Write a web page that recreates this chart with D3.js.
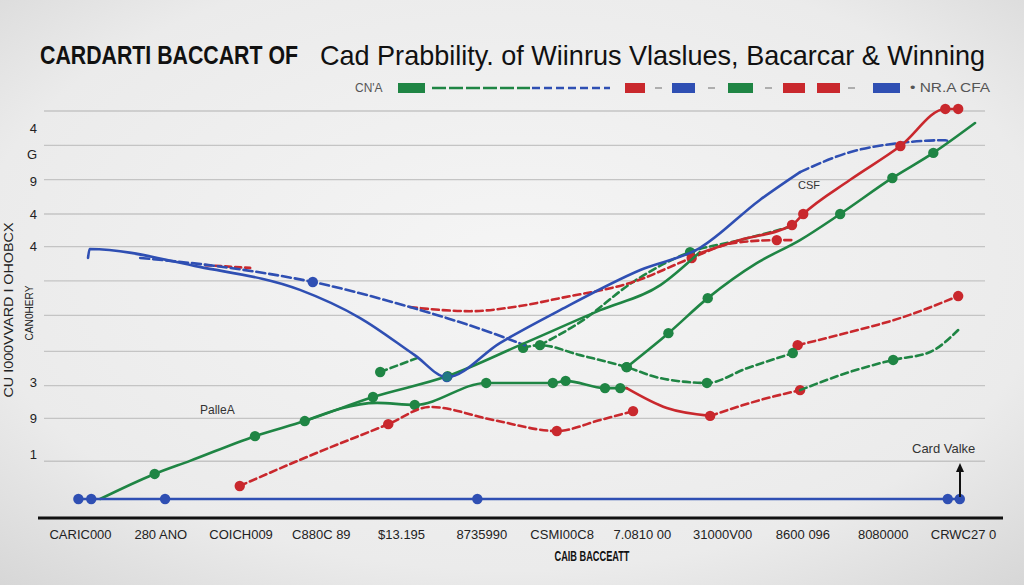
<!DOCTYPE html>
<html><head><meta charset="utf-8">
<script src="https://cdn.jsdelivr.net/npm/d3@7"></script>
<style>html,body{margin:0;padding:0;background:#ececec;}svg{display:block;}</style>
</head><body><svg id="chart" width="1024" height="585"></svg>
<script>
// ---------- DATA ----------
const xTickLabels = ["CARIC000","280 ANO","COICH009","C880C 89","$13.195","8735990","CSMI00C8","7.0810 00","31000V00","8600 096","8080000","CRWC27 0"];
const yTickValues = [10.8, 10.05, 9.25, 8.3, 7.35, 3.4, 2.35, 1.3];
const yTickLabels = ["4","G","9","4","4","3","9","1"];
const gridValues = [1.1, 2.35, 3.3, 4.3, 5.35, 6.35, 7.35, 8.3, 9.3, 10.3, 11.3];
const legendLabels = ["CN'A", "\u2022 NR.A CFA"];
const titleLeft = "CARDARTI BACCART OF";
const titleRight = "Cad Prabbility. of Wiinrus Vlaslues, Bacarcar & Winning";
const xTitle = "CAIB BACCEATT";
const yTitleOuter = "CU I000VVARD I OHOBCX";
const yTitleInner = "CAN0HERY";

// [x index, value, marker]
const blueSolid = [[0.10,7.02,0],[0.12,7.28,0],[1.49,6.76,0],[2.74,6.09,0],[3.49,5.27,0],[4.17,4.19,0],[4.57,3.55,1],[5.23,4.54,0],[5.98,5.50,0],[6.98,6.67,0],[7.72,7.31,0],[8.47,8.71,0],[8.97,9.52,0]];
const blueDash = [[8.97,9.52,0],[9.59,10.10,0],[10.22,10.37,0],[10.78,10.45,0],[10.81,10.43,0]];
const blueDash2 = [[0.75,7.02,0],[1.87,6.73,0],[2.90,6.32,1],[4.11,5.59,0],[5.27,4.72,0],[5.54,4.48,0]];
const blueBase = [[-0.02,0,1],[0.14,0,1],[1.06,0,1],[4.95,0,1],[10.81,0,1],[10.96,0,1]];
const redDashTop = [[1.56,6.81,0],[2.12,6.73,0]];
const redDashMid = [[4.11,5.59,0],[4.86,5.47,0],[5.48,5.62,0],[5.98,5.85,0],[6.89,6.32,0],[7.62,7.02,1],[8.13,7.45,0],[8.68,7.54,1],[8.88,7.54,0]];
const redSolidUp = [[7.72,7.16,0],[8.22,7.54,0],[8.87,7.98,1],[9.01,8.30,1],[9.59,9.29,0],[10.22,10.28,1],[10.78,11.36,1],[10.94,11.36,1]];
const greenSolidMain = [[0.25,0,0],[0.93,0.73,1],[1.37,1.11,0],[2.18,1.83,1],[2.80,2.27,1],[3.65,2.97,1],[4.58,3.58,1],[5.48,4.48,0],[6.48,5.50,0],[7.23,6.23,0],[7.72,7.19,0]];
const greenSolidFlat = [[2.80,2.27,0],[3.70,2.80,0],[4.17,2.74,1],[5.06,3.38,1],[5.89,3.38,1],[6.05,3.44,1],[6.54,3.23,1],[6.73,3.23,1],[6.81,3.23,0]];
const greenDashShort = [[3.74,3.70,1],[4.24,4.14,0]];
const greenDashMid = [[5.52,4.40,1],[5.73,4.48,1],[6.23,4.19,0],[6.81,3.84,1],[7.23,3.52,0],[7.81,3.38,1],[8.31,3.81,0],[8.88,4.25,1]];
const greenDashUpper = [[5.73,4.48,0],[6.23,5.15,0],[6.89,6.32,0],[7.60,7.19,1],[8.22,7.54,0],[8.84,7.92,0]];
const greenSolidRight = [[6.81,3.84,1],[7.33,4.83,1],[7.82,5.85,1],[8.43,6.87,0],[8.97,7.54,0],[9.47,8.30,1],[10.12,9.35,1],[10.63,10.08,1],[11.15,10.95,0]];
const redDashLow = [[1.99,0.38,1],[2.74,1.14,0],[3.84,2.18,1],[4.36,2.68,0],[5.15,2.30,0],[5.94,1.98,1],[6.48,2.30,0],[6.89,2.56,1]];
const redSolidLow = [[6.81,3.23,0],[7.31,2.65,0],[7.85,2.42,1]];
const redDashLow2 = [[7.85,2.42,0],[8.47,2.88,0],[8.97,3.17,1]];
const greenDashRight = [[8.97,3.17,0],[9.59,3.70,0],[10.13,4.05,1],[10.59,4.28,0],[10.94,4.92,0]];
const redDashRight = [[8.94,4.48,1],[9.59,4.86,0],[10.22,5.27,0],[10.94,5.91,1]];

// ---------- STYLE ----------
const BLUE = "#2f4fb3", GREEN = "#1f8544", RED = "#c9282d";
const series = [
  {d: greenSolidFlat, c: GREEN, dash: null},
  {d: redDashLow, c: RED, dash: "7,4"},
  {d: redSolidLow, c: RED, dash: null},
  {d: redDashLow2, c: RED, dash: "7,4"},
  {d: greenDashRight, c: GREEN, dash: "7,4"},
  {d: redDashRight, c: RED, dash: "7,4"},
  {d: greenDashShort, c: GREEN, dash: "7,4"},
  {d: greenDashMid, c: GREEN, dash: "7,4"},
  {d: greenDashUpper, c: GREEN, dash: "7,4"},
  {d: redDashTop, c: RED, dash: "6,4"},
  {d: redDashMid, c: RED, dash: "7,4"},
  {d: blueDash2, c: BLUE, dash: "9,4"},
  {d: greenSolidMain, c: GREEN, dash: null},
  {d: blueSolid, c: BLUE, dash: null},
  {d: blueDash, c: BLUE, dash: "9,4"},
  {d: redSolidUp, c: RED, dash: null},
  {d: greenSolidRight, c: GREEN, dash: null},
  {d: blueBase, c: BLUE, dash: null}
];

const svg = d3.select("#chart");
const defs = svg.append("defs");
const rg = defs.append("radialGradient").attr("id","bg").attr("cx","50%").attr("cy","45%").attr("r","75%");
rg.append("stop").attr("offset","0%").attr("stop-color","#f5f5f5");
rg.append("stop").attr("offset","70%").attr("stop-color","#ebebeb");
rg.append("stop").attr("offset","100%").attr("stop-color","#d6d6d6");
svg.append("rect").attr("width",1024).attr("height",585).attr("fill","url(#bg)");

const x = d3.scaleLinear().domain([0, 11]).range([80, 963]);
const y = d3.scaleLinear().domain([0, 11.3]).range([499, 111]);

// gridlines
svg.append("g").selectAll("line").data(gridValues).join("line")
  .attr("x1", 44).attr("x2", 985)
  .attr("y1", d => y(d)).attr("y2", d => y(d))
  .attr("stroke", "#c4c4c4").attr("stroke-width", 1.3);

// title
svg.append("text").attr("x", 40).attr("y", 64).text(titleLeft)
  .attr("font-family", "'Liberation Sans Narrow','Liberation Sans',sans-serif")
  .attr("font-weight", "bold").attr("font-size", 25).attr("fill", "#111")
  .attr("textLength", 258).attr("lengthAdjust", "spacingAndGlyphs");
svg.append("text").attr("x", 320).attr("y", 65).text(titleRight)
  .attr("font-family", "'Liberation Sans Narrow','Liberation Sans',sans-serif")
  .attr("font-size", 28).attr("fill", "#111")
  .attr("textLength", 665).attr("lengthAdjust", "spacingAndGlyphs");

// legend
const lg = svg.append("g");
lg.append("text").attr("x", 355).attr("y", 92).text(legendLabels[0])
  .attr("font-family","'Liberation Sans Narrow',sans-serif").attr("font-size",12).attr("fill","#555");
lg.append("text").attr("x", 910).attr("y", 92).text(legendLabels[1])
  .attr("font-family","'Liberation Sans Narrow',sans-serif").attr("font-size",12).attr("fill","#555")
  .attr("textLength", 80).attr("lengthAdjust","spacingAndGlyphs");
const legendSquares = [[398,27,GREEN],[625,20,RED],[672,23,BLUE],[728,25,GREEN],[783,22,RED],[817,23,RED],[873,27,BLUE]];
lg.selectAll("rect").data(legendSquares).join("rect")
  .attr("x", d => d[0]).attr("y", 83).attr("width", d => d[1]).attr("height", 10).attr("fill", d => d[2]);
lg.append("line").attr("x1",432).attr("x2",530).attr("y1",88).attr("y2",88).attr("stroke",GREEN).attr("stroke-width",2.5).attr("stroke-dasharray","14,3");
lg.append("line").attr("x1",532).attr("x2",610).attr("y1",88).attr("y2",88).attr("stroke",BLUE).attr("stroke-width",2.5).attr("stroke-dasharray","8,4");
[[655,662],[708,715],[765,772],[848,855]].forEach(s => lg.append("line").attr("x1",s[0]).attr("x2",s[1]).attr("y1",88).attr("y2",88).attr("stroke","#999").attr("stroke-width",1.5));

// y axis labels
const yAxis = d3.axisLeft(y).tickValues(yTickValues).tickFormat((d,i) => yTickLabels[i]).tickSize(0).tickPadding(0);
const ya = svg.append("g").attr("transform","translate(37,0)").call(yAxis);
ya.select(".domain").remove();
ya.selectAll("text").attr("font-family","'Liberation Sans',sans-serif").attr("font-size",13).attr("fill","#222");

svg.append("text").attr("transform","translate(13,310) rotate(-90)").attr("text-anchor","middle")
  .text(yTitleOuter).attr("font-family","'Liberation Sans Narrow',sans-serif").attr("font-size",13).attr("fill","#222")
  .attr("textLength",175).attr("lengthAdjust","spacingAndGlyphs");
svg.append("text").attr("transform","translate(33,313) rotate(-90)").attr("text-anchor","middle")
  .text(yTitleInner).attr("font-family","'Liberation Sans Narrow',sans-serif").attr("font-size",11).attr("fill","#222")
  .attr("textLength",55).attr("lengthAdjust","spacingAndGlyphs");

// lines
const line = d3.line().x(d => x(d[0])).y(d => y(d[1])).curve(d3.curveMonotoneX);
const sg = svg.append("g");
series.forEach(s => {
  sg.append("path").attr("d", line(s.d)).attr("fill","none")
    .attr("stroke", s.c).attr("stroke-width", 2.6)
    .attr("stroke-dasharray", s.dash).attr("stroke-linecap","round");
  sg.append("g").selectAll("circle").data(s.d.filter(p => p[2])).join("circle")
    .attr("cx", d => x(d[0])).attr("cy", d => y(d[1])).attr("r", 5.2).attr("fill", s.c);
});
// teal vertex marker on blue line
sg.append("circle").attr("cx", x(blueSolid[6][0])).attr("cy", y(blueSolid[6][1])).attr("r",4.5).attr("fill","#1f7a80");

// annotations
const ann = (t,px,py,fs) => svg.append("text").attr("x",px).attr("y",py).text(t)
  .attr("font-family","'Liberation Sans',sans-serif").attr("font-size",fs).attr("fill","#333");
ann("PalleA", 200, 414, 12);
ann("CSF", 798, 189, 11);
ann("Card Valke", 912, 453, 13);
svg.append("line").attr("x1",960).attr("x2",960).attr("y1",497).attr("y2",470).attr("stroke","#111").attr("stroke-width",2);
svg.append("path").attr("d","M956,472 L960,463 L964,472 Z").attr("fill","#111");

// x axis
svg.append("line").attr("x1",38).attr("x2",1003).attr("y1",518).attr("y2",518).attr("stroke","#111").attr("stroke-width",3);
const xAxis = d3.axisBottom(x).tickValues(d3.range(xTickLabels.length)).tickFormat((d,i) => xTickLabels[i]).tickSize(0).tickPadding(0);
const xa = svg.append("g").attr("transform","translate(0,530)").call(xAxis);
xa.select(".domain").remove();
xa.selectAll("text").attr("font-family","'Liberation Sans Narrow',sans-serif").attr("font-size",13).attr("fill","#222");
svg.append("text").attr("x",592).attr("y",561).attr("text-anchor","middle").text(xTitle)
  .attr("font-family","'Liberation Sans Narrow',sans-serif").attr("font-size",14).attr("font-weight","bold").attr("fill","#111")
  .attr("textLength",75).attr("lengthAdjust","spacingAndGlyphs");
</script></body></html>
